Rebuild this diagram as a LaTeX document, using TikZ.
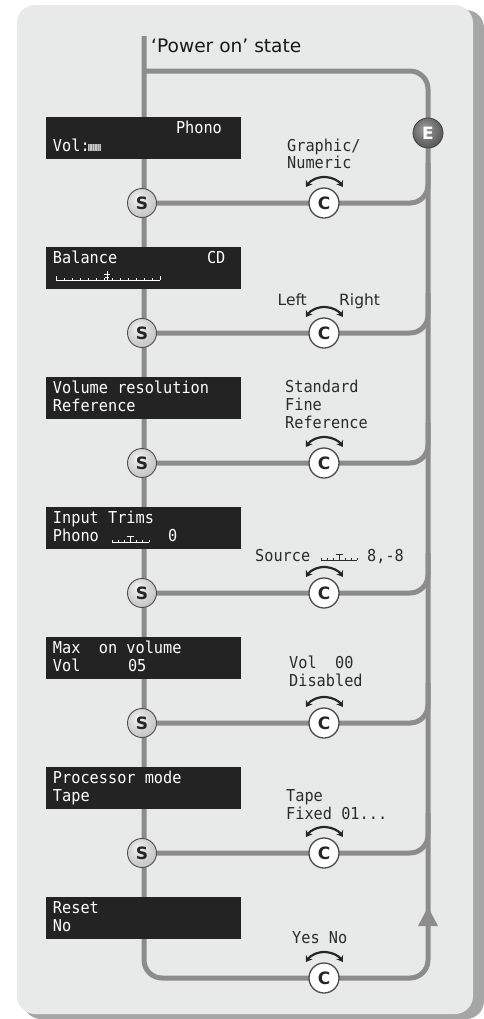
\documentclass[tikz,border=0pt]{standalone}
\usepackage{fontspec}
\setmainfont{DejaVu Sans}
\newfontfamily\lcd[FakeStretch=0.93]{DejaVu Sans Mono}
\usetikzlibrary{calc,arrows.meta,shadings}
\definecolor{panelc}{HTML}{E8E9E9}
\definecolor{shadowc}{HTML}{A6A6A6}
\definecolor{wirec}{HTML}{8C8C8C}
\definecolor{dispc}{HTML}{232323}
\definecolor{labelc}{HTML}{2B2B2B}
\pgfdeclareradialshading{sphlight}{\pgfpoint{-8bp}{10bp}}{color(0bp)=(gray!8); color(14bp)=(gray!28); color(38bp)=(gray!55); color(60bp)=(gray!72)}
\pgfdeclareradialshading{sphdark}{\pgfpoint{-6bp}{8bp}}{color(0bp)=(gray!75); color(25bp)=(black!62); color(50bp)=(black!72); color(60bp)=(black!80)}
\pgfdeclareradialshading{sphwhite}{\pgfpoint{0bp}{0bp}}{color(0bp)=(white); color(30bp)=(white); color(45bp)=(gray!25); color(50bp)=(gray!40)}
\pgfdeclarelayer{bg}
\pgfsetlayers{bg,main}
\tikzset{
 wire/.style={draw=wirec, line width=5bp, rounded corners=18bp},
 sball/.style={circle, minimum size=29bp, inner sep=0pt, shade, shading=sphlight, draw=black!70, line width=0.9bp, font=\fontsize{17bp}{17bp}\selectfont\bfseries, text=black!85},
 cball/.style={circle, minimum size=30bp, inner sep=0pt, shade, shading=sphwhite, draw=black!70, line width=1.3bp, font=\fontsize{17bp}{17bp}\selectfont\bfseries, text=black!85},
 eball/.style={circle, minimum size=30bp, inner sep=0pt, shade, shading=sphdark, draw=black!75, line width=0.8bp, font=\fontsize{17bp}{17bp}\selectfont\bfseries, text=white},
 disp/.style={rectangle, fill=dispc, minimum width=195bp, minimum height=42bp, inner sep=0pt},
 lcdw/.style={anchor=base west, inner sep=0pt, text=white, font=\lcd\fontsize{16.4bp}{18bp}\selectfont},
 lcdd/.style={lcdw, text=labelc},
 sans/.style={anchor=base west, inner sep=0pt, text=labelc, font=\fontsize{15.5bp}{18bp}\selectfont},
 rot/.style={draw=black!85, line width=2.2bp, {Stealth[length=6bp,width=8bp]}-{Stealth[length=6bp,width=8bp]}},
 glyw/.style={draw=white, line width=0.7bp},
 glyd/.style={draw=labelc, line width=0.7bp},
}
\begin{document}
\begin{tikzpicture}[x=1bp,y=-1bp]
\useasboundingbox (0,0) rectangle (484,1019);
\begin{pgfonlayer}{bg}
\fill[shadowc, rounded corners=18bp] (23,10) rectangle (484,1019);
\fill[panelc, rounded corners=18bp] (17,5) rectangle (473,1014);
\end{pgfonlayer}

% coordinates of the loop
\coordinate (top) at (144,36);
\coordinate (tl) at (144,71);
\coordinate (tr) at (428,71);
\coordinate (bl) at (144,978);
\coordinate (br) at (428,978);

% title
\node[anchor=base west, inner sep=0pt, text=black!90, font=\fontsize{18.6bp}{20bp}\selectfont] (title) at (151,52) {‘Power on’ state};

% displays
\node[disp] (d1) at (143.5,138) {};
\node[disp] (d2) at (143.5,268) {};
\node[disp] (d3) at (143.5,398) {};
\node[disp] (d4) at (143.5,528) {};
\node[disp] (d5) at (143.5,658) {};
\node[disp] (d6) at (143.5,788) {};
\node[disp] (d7) at (143.5,918) {};

% display texts
\node[lcdw] (d1a) at ($(d1.north west)+(130,17)$) {Phono};
\node[lcdw] (d1b) at ($(d1.north west)+(7,35)$) {Vol:};
\node[lcdw] (d2a) at ($(d2.north west)+(7,17)$) {Balance};
\node[lcdw] (d2b) at ($(d2.north west)+(161,17)$) {CD};
\node[lcdw] (d3a) at ($(d3.north west)+(7,17)$) {Volume resolution};
\node[lcdw] (d3b) at ($(d3.north west)+(7,35)$) {Reference};
\node[lcdw] (d4a) at ($(d4.north west)+(7,17)$) {Input Trims};
\node[lcdw] (d4b) at ($(d4.north west)+(7,35)$) {Phono};
\node[lcdw] (d4c) at ($(d4.north west)+(122,35)$) {0};
\node[lcdw] (d5a) at ($(d5.north west)+(7,17)$) {Max\ \ on volume};
\node[lcdw] (d5b) at ($(d5.north west)+(7,35)$) {Vol};
\node[lcdw] (d5c) at ($(d5.north west)+(82,35)$) {05};
\node[lcdw] (d6a) at ($(d6.north west)+(7,17)$) {Processor mode};
\node[lcdw] (d6b) at ($(d6.north west)+(7,35)$) {Tape};
\node[lcdw] (d7a) at ($(d7.north west)+(7,17)$) {Reset};
\node[lcdw] (d7b) at ($(d7.north west)+(7,35)$) {No};

% small display glyphs
% volume bar icon
\fill[gray!45] (88,144) rectangle (101,151);
\foreach \x in {89.5,92,...,100} \draw[gray!85, line width=0.6bp] (\x,144) -- (\x,151);
% balance ruler
\draw[glyw] (56,280) -- (160,280);
\foreach \x in {56,64,...,160} \draw[glyw] (\x,280) -- (\x,277.5);
\draw[glyw] (56,280) -- (56,276); \draw[glyw] (160,280) -- (160,276);
\draw[glyw] (107,271) -- (107,280); \draw[glyw] (104,274.5) -- (110,274.5);
\draw[glyw] (105,277) -- (109,277);
% trim glyph in display
\draw[glyw] (112,542) -- (149,542);
\foreach \x in {112,118,124,136,142,149} \draw[glyw] (\x,542) -- (\x,540);
\draw[glyw] (130,536) -- (130,542); \draw[glyw] (126.5,536) -- (133.5,536);

% balls
\foreach \i/\y in {1/203,2/333,3/463,4/593,5/723,6/853}{
  \node[sball] (s\i) at (142,\y) {S};
  \node[cball] (c\i) at (324,\y) {C};
  \coordinate (j\i) at (428,\y);
  \coordinate (u\i) at (428,\y-40);
}
\node[cball] (c7) at (324,978) {C};
\node[eball] (e) at (428,133) {E};

% rotation arrows
\foreach \i in {1,...,7}{
  \draw[rot] ($(c\i)+(-18,-16)$) arc[start angle=213, end angle=327, radius=22];
}

% labels
\node[lcdd] (l1a) at ($(c1)+(-37,-52)$) {Graphic/};
\node[lcdd] (l1b) at ($(c1)+(-37,-35)$) {Numeric};
\node[sans, anchor=base east] (l2a) at ($(c2)+(-17,-28)$) {Left};
\node[sans] (l2b) at ($(c2)+(15,-28)$) {Right};
\node[lcdd] (l3a) at ($(c3)+(-39,-71)$) {Standard};
\node[lcdd] (l3b) at ($(c3)+(-39,-53)$) {Fine};
\node[lcdd] (l3c) at ($(c3)+(-39,-35)$) {Reference};
\node[lcdd] (l4a) at ($(c4)+(-69,-32)$) {Source};
\node[lcdd] (l4b) at ($(c4)+(43,-32)$) {8,-8};
\node[lcdd] (l5a) at ($(c5)+(-35,-55)$) {Vol\ \ 00};
\node[lcdd] (l5b) at ($(c5)+(-35,-37)$) {Disabled};
\node[lcdd] (l6a) at ($(c6)+(-38,-52)$) {Tape};
\node[lcdd] (l6b) at ($(c6)+(-38,-34)$) {Fixed 01...};
\node[lcdd] (l7a) at ($(c7)+(-32,-35)$) {Yes No};
% source glyph
\draw[glyd] (321,560) -- (357,560);
\foreach \x in {321,327,333,345,351,357} \draw[glyd] (\x,560) -- (\x,558);
\draw[glyd] (339,554) -- (339,560); \draw[glyd] (335.5,554) -- (342.5,554);

% wires
\begin{pgfonlayer}{bg}
\draw[wire] (top) -- (bl) -- (br) -- (tr) -- (tl);
\foreach \i in {1,...,6}{
  \draw[wire] (s\i.center) -- (c\i.center) -- (j\i) -- (u\i);
}
\fill[wirec] (428,907) -- (438,926) -- (418,926) -- cycle;
\end{pgfonlayer}
\end{tikzpicture}
\end{document}
